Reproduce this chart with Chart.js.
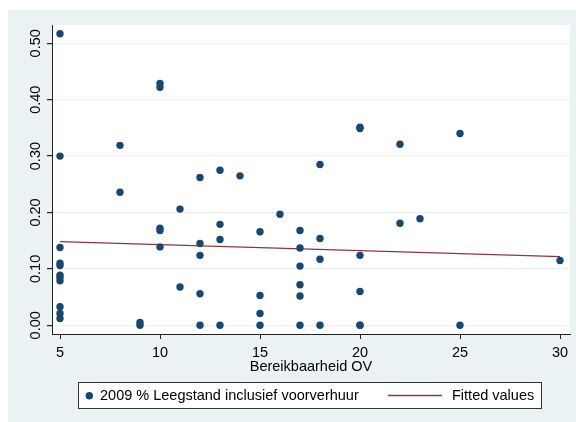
<!DOCTYPE html>
<html>
<head>
<meta charset="utf-8">
<script src="https://cdn.jsdelivr.net/npm/chart.js@4"></script>
<style>
  body { margin: 0; background: #ffffff; }
  #wrap { width: 576px; height: 422px; }
</style>
</head>
<body>
<div id="wrap"><canvas id="grafico" width="576" height="422"></canvas></div>
<script>
// Bereikbaarheid OV (x) en leegstand 2009 (y)
const bereikbaarheid = [5, 5, 5, 5, 5, 5, 5, 5, 5, 5, 5,
  8, 8, 9, 9, 10, 10, 10, 10, 10, 11, 11,
  12, 12, 12, 12, 12, 13, 13, 13, 13, 14,
  15, 15, 15, 15, 16, 17, 17, 17, 17, 17, 17,
  18, 18, 18, 18, 20, 20, 20, 20, 20, 20,
  22, 22, 23, 25, 25, 30];
const leegstand = [0.517, 0.300, 0.138, 0.110, 0.106, 0.089, 0.085, 0.079, 0.033, 0.021, 0.012,
  0.319, 0.236, 0.005, 0.000, 0.429, 0.422, 0.172, 0.168, 0.139, 0.206, 0.068,
  0.262, 0.145, 0.124, 0.056, 0.000, 0.275, 0.179, 0.152, 0.000, 0.265,
  0.166, 0.053, 0.021, 0.000, 0.197, 0.168, 0.137, 0.105, 0.072, 0.052, 0.000,
  0.285, 0.154, 0.117, 0.000, 0.351, 0.349, 0.124, 0.060, 0.000, 0.000,
  0.321, 0.181, 0.189, 0.340, 0.000, 0.115];

// Fitted values (begin en eind van de lijn)
const fitX = [5, 30];
const fitY = [0.1485, 0.1217];

// Tick labels
const xTicks = [5, 10, 15, 20, 25, 30];
const yTicks = [0.0, 0.1, 0.2, 0.3, 0.4, 0.5];

const fuente = "'Liberation Sans', Arial, sans-serif";
const navy = '#1a476f';
const maroon = '#90353b';

const puntos = bereikbaarheid.map((x, i) => ({ x: x, y: leegstand[i] }));
const lijn = fitX.map((x, i) => ({ x: x, y: fitY[i] }));

// Fondo gris exterior y area blanca del grafico
const fondo = {
  id: 'fondo',
  beforeDraw(chart) {
    const ctx = chart.ctx;
    const a = chart.chartArea;
    ctx.save();
    ctx.fillStyle = '#ffffff';
    ctx.fillRect(0, 0, chart.width, chart.height);
    ctx.fillStyle = '#eaf2f3';
    ctx.fillRect(8, 10, chart.width - 8, chart.height - 10);
    ctx.fillStyle = '#ffffff';
    ctx.fillRect(a.left, a.top, a.right - a.left, a.bottom - a.top);
    ctx.restore();
  }
};

// Etiquetas del eje y giradas (estilo Stata)
const etiquetasY = {
  id: 'etiquetasY',
  afterDraw(chart) {
    const ctx = chart.ctx;
    const sy = chart.scales.y;
    ctx.save();
    ctx.fillStyle = '#000000';
    ctx.font = '14.5px ' + fuente;
    ctx.textAlign = 'center';
    ctx.textBaseline = 'alphabetic';
    yTicks.forEach(v => {
      ctx.save();
      ctx.translate(39.7, sy.getPixelForValue(v));
      ctx.rotate(-Math.PI / 2);
      ctx.fillText(v.toFixed(2), 0, 0);
      ctx.restore();
    });
    ctx.restore();
  }
};

// Leyenda con marco
const leyenda = {
  id: 'leyenda',
  afterDraw(chart) {
    const ctx = chart.ctx;
    const ds = chart.data.datasets;
    ctx.save();
    ctx.fillStyle = '#ffffff';
    ctx.fillRect(78.5, 382.5, 463, 26);
    ctx.strokeStyle = '#333333';
    ctx.lineWidth = 1;
    ctx.strokeRect(78.5, 382.5, 463, 26);

    ctx.fillStyle = navy;
    ctx.beginPath();
    ctx.arc(89.3, 395.7, 3.7, 0, Math.PI * 2);
    ctx.fill();

    ctx.strokeStyle = maroon;
    ctx.lineWidth = 1.3;
    ctx.beginPath();
    ctx.moveTo(388, 395.5);
    ctx.lineTo(442, 395.5);
    ctx.stroke();

    ctx.fillStyle = '#000000';
    ctx.font = '14.5px ' + fuente;
    ctx.textAlign = 'left';
    ctx.textBaseline = 'middle';
    ctx.fillText(ds[0].label, 100, 396);
    ctx.fillText(ds[1].label, 452, 396);
    ctx.restore();
  }
};

const grafico = new Chart(document.querySelector('#grafico'), {
  type: 'scatter',
  data: {
    datasets: [
      {
        label: '2009 % Leegstand inclusief voorverhuur',
        data: puntos,
        backgroundColor: navy,
        borderColor: navy,
        borderWidth: 0,
        pointRadius: 3.7
      },
      {
        type: 'line',
        label: 'Fitted values',
        data: lijn,
        borderColor: maroon,
        borderWidth: 1.3,
        pointRadius: 0,
        fill: false
      }
    ]
  },
  options: {
    responsive: false,
    animation: false,
    events: [],
    layout: { padding: { left: 0, top: 25, right: 6, bottom: 0 } },
    plugins: { legend: { display: false }, tooltip: { enabled: false } },
    scales: {
      x: {
        type: 'linear',
        min: 4.6,
        max: 30.5,
        afterBuildTicks: s => { s.ticks = xTicks.map(v => ({ value: v })); },
        afterFit: s => { s.height = 88; },
        grid: { drawOnChartArea: false, drawTicks: true, tickLength: 5, tickColor: '#222222' },
        border: { display: true, color: '#222222', width: 1 },
        ticks: {
          color: '#000000',
          font: { family: fuente, size: 14.5 },
          padding: 5,
          maxRotation: 0,
          callback: v => String(v)
        },
        title: {
          display: true,
          text: 'Bereikbaarheid OV',
          color: '#000000',
          font: { family: fuente, size: 14.5 },
          padding: { top: 0, bottom: 46 }
        }
      },
      y: {
        type: 'linear',
        min: -0.0154,
        max: 0.5324,
        afterBuildTicks: s => { s.ticks = yTicks.map(v => ({ value: v })); },
        afterFit: s => { s.width = 52; },
        grid: { color: '#eaf2f3', lineWidth: 1.2, drawTicks: true, tickLength: 5, tickColor: '#222222' },
        border: { display: true, color: '#222222', width: 1 },
        ticks: { display: false }
      }
    }
  },
  plugins: [fondo, etiquetasY, leyenda]
});
</script>
</body>
</html>
